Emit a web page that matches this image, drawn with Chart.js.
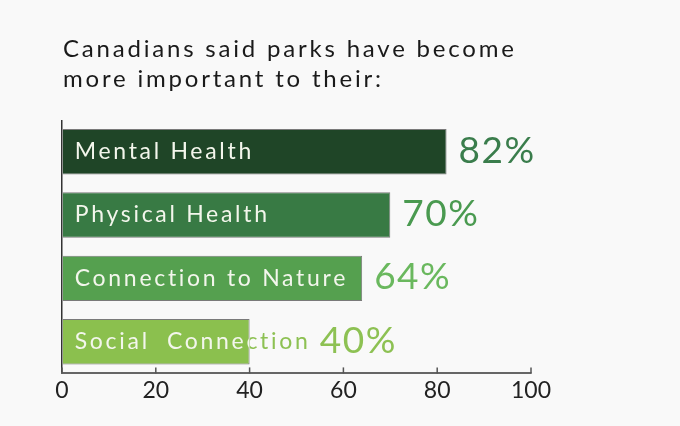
<!DOCTYPE html>
<html>
<head>
<meta charset="utf-8">
<script src="https://cdn.jsdelivr.net/npm/chart.js@4"></script>
<style>
  html, body { margin: 0; padding: 0; background: #f9f9f9; }
  #wrap { width: 680px; height: 426px; }
</style>
</head>
<body>
<div id="wrap"><canvas id="parksChart"></canvas></div>
<script>
// Survey: why parks matter more now
const categories = ['Mental Health', 'Physical Health', 'Connection to Nature', 'Social  Connection'];
const values = [82, 70, 64, 40];
const xTicks = [0, 20, 40, 60, 80, 100];
const titleLines = ['Canadians said parks have become', 'more important to their:'];

const barColors = ['#1f4527', '#387a44', '#55a04f', '#8bc04e'];
const valueColors = ['#3a7d4c', '#4a9a50', '#6ab85e', '#8dc153'];
const FONT = 'Lato, "Open Sans", sans-serif';

// two-line heading, drawn by hand so the letter spacing can be widened
const heading = {
    id: 'heading',
    afterDraw(chart) {
        const ctx = chart.ctx;
        const left = chart.chartArea.left + 1;
        const top = chart.chartArea.top;
        ctx.save();
        ctx.font = '24px ' + FONT;
        ctx.letterSpacing = '2.8px';
        ctx.fillStyle = '#1a1a1a';
        ctx.textBaseline = 'alphabetic';
        titleLines.forEach((line, i) => ctx.fillText(line, left, top - 63 + i * 30));
        ctx.restore();
    }
};

// labels inside the bars + the big percentages
const barLabels = {
    id: 'barLabels',
    afterDatasetsDraw(chart) {
        const ctx = chart.ctx;
        const meta = chart.getDatasetMeta(0);
        meta.data.forEach((bar, i) => {
            const { x, y, base, height } = bar.getProps(['x', 'y', 'base', 'height'], true);
            ctx.save();
            ctx.font = '23px ' + FONT;
            ctx.textBaseline = 'middle';
            ctx.letterSpacing = '2.7px';
            const tx = base + 12;
            const tw = ctx.measureText(categories[i]).width - 2.7;

            ctx.save();
            ctx.beginPath();
            ctx.rect(base, y - height / 2, x - base, height);
            ctx.clip();
            ctx.fillStyle = '#f3f6ec';
            ctx.fillText(categories[i], tx, y);
            ctx.restore();

            if (tx + tw > x) {
                ctx.save();
                ctx.beginPath();
                ctx.rect(x, y - height, chart.width, height * 2);
                ctx.clip();
                ctx.fillStyle = valueColors[i];
                ctx.fillText(categories[i], tx, y);
                ctx.restore();
            }

            ctx.font = '37px ' + FONT;
            ctx.letterSpacing = '1.5px';
            ctx.fillStyle = valueColors[i];
            ctx.fillText(values[i] + '%', Math.max(x, tx + tw) + 12, y - 1);
            ctx.restore();
        });
    }
};

// short tick marks pointing up from the x axis
const upTicks = {
    id: 'upTicks',
    afterDraw(chart) {
        const ctx = chart.ctx;
        const xs = chart.scales.x;
        const bottom = chart.chartArea.bottom;
        ctx.save();
        ctx.strokeStyle = '#555';
        ctx.lineWidth = 1.5;
        xTicks.forEach(v => {
            const px = xs.getPixelForValue(v);
            ctx.beginPath();
            ctx.moveTo(px, bottom);
            ctx.lineTo(px, bottom - 6);
            ctx.stroke();
        });
        ctx.restore();
    }
};

new Chart(document.getElementById('parksChart'), {
    type: 'bar',
    data: {
        labels: categories,
        datasets: [{
            data: values,
            backgroundColor: barColors,
            borderColor: '#7a7a7a',
            borderWidth: 1,
            barPercentage: 0.718,
            categoryPercentage: 1
        }]
    },
    options: {
        indexAxis: 'y',
        responsive: true,
        maintainAspectRatio: false,
        animation: false,
        layout: { padding: { left: 62, right: 149, top: 120, bottom: 19 } },
        plugins: {
            legend: { display: false },
            tooltip: { enabled: false },
            title: { display: false }
        },
        scales: {
            x: {
                min: 0,
                max: 100,
                afterBuildTicks: (scale) => { scale.ticks = xTicks.map(v => ({ value: v })); },
                ticks: { color: '#222', padding: 3, font: { family: FONT, size: 23 } },
                grid: {
                    drawTicks: false,
                    lineWidth: 1.5,
                    color: (c) => (c.tick && c.tick.value === 0 ? '#333' : 'transparent')
                },
                border: { display: true, color: '#666', width: 2 }
            },
            y: { display: false }
        }
    },
    plugins: [barLabels, upTicks, heading]
});
</script>
</body>
</html>
